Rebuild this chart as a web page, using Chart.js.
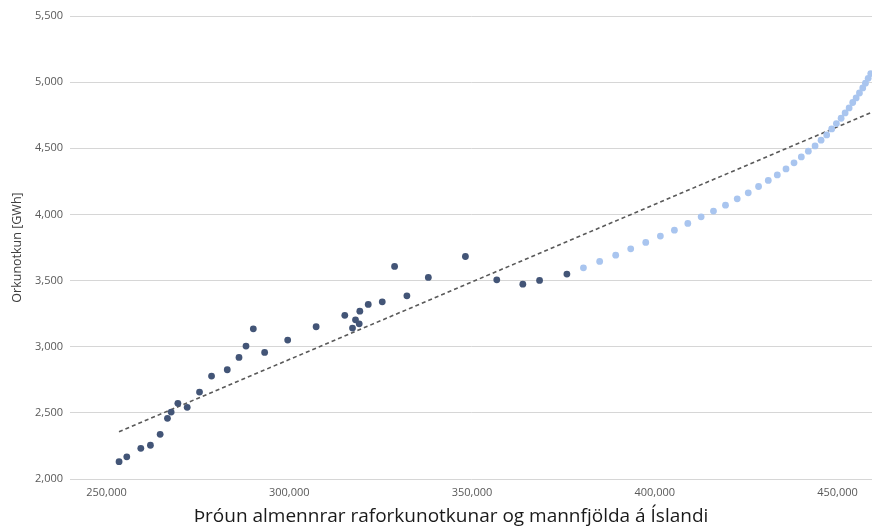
<!DOCTYPE html>
<html>
<head>
<meta charset="utf-8">
<script src="https://cdn.jsdelivr.net/npm/chart.js@4.4.1/dist/chart.umd.min.js"></script>
<style>
  html, body { margin: 0; padding: 0; background: #ffffff; overflow: hidden; }
  #wrap { position: relative; width: 872px; height: 526px; overflow: hidden; }
  #c { position: absolute; left: 0; top: 0; }
  #caption { position: absolute; left: 0; top: 502px; width: 842px; padding-left: 30px;
    text-align: center; font-family: "Open Sans", "Noto Sans", sans-serif; font-size: 19px;
    line-height: 26px; color: #1a1a1a; white-space: nowrap; }
</style>
</head>
<body>
<div id="wrap">
  <canvas id="c" width="876" height="526"></canvas>
  <div id="caption">Þróun almennrar raforkunotkunar og mannfjölda á Íslandi</div>
</div>
<script>
// Historical: population (x) and consumption GWh (y)
const histPop = [253427, 255537, 259375, 262006, 264666, 266667, 267681, 269517, 272067, 275438,
  278728, 283031, 286239, 288157, 290159, 293256, 299561, 307346, 315186, 317296,
  318119, 319133, 319298, 321600, 325438, 328810, 332181, 338047, 348190, 356770,
  363897, 368475, 375958];
const histGWh = [2131, 2168, 2232, 2255, 2338, 2459, 2506, 2572, 2542, 2657,
  2778, 2826, 2919, 3005, 3135, 2957, 3050, 3151, 3237, 3141,
  3203, 3173, 3269, 3320, 3339, 3607, 3385, 3524, 3682, 3506,
  3473, 3501, 3549];
// Forecast
const fcPop = [380481, 384922, 389308, 393420, 397531, 401534, 405371, 409044, 412690, 416062,
  419351, 422559, 425574, 428397, 431056, 433523, 435908, 438101, 440102, 442021,
  443858, 445503, 447037, 448408, 449696, 450985, 452081, 453178, 454164, 455097,
  456001, 456906, 457646, 458386, 459099];
const fcGWh = [3596, 3645, 3692, 3740, 3788, 3836, 3881, 3932, 3982, 4025,
  4070, 4118, 4163, 4211, 4257, 4299, 4344, 4390, 4435, 4478,
  4518, 4561, 4601, 4646, 4687, 4727, 4767, 4805, 4846, 4881,
  4918, 4956, 4992, 5029, 5065];
// Linear trend line (endpoints)
const trendPop = [253400, 459600];
const trendGWh = [2357, 4775];
// Axis ticks
const xTicks = [250000, 300000, 350000, 400000, 450000];
const yTicks = [2000, 2500, 3000, 3500, 4000, 4500, 5000, 5500];
const yTitle = 'Orkunotkun [GWh]';

const toPts = (xs, ys) => xs.map((x, i) => ({ x: x, y: ys[i] }));
const tickFont = { family: '"Open Sans", "Noto Sans", sans-serif', size: 11 };

new Chart(document.getElementById('c'), {
  type: 'scatter',
  data: {
    datasets: [
      { label: 'Trend', type: 'line', data: toPts(trendPop, trendGWh), borderColor: '#595959',
        borderWidth: 1.6, borderDash: [4, 3], pointRadius: 0, fill: false, order: 3 },
      { label: 'Spá', data: toPts(fcPop, fcGWh), backgroundColor: '#a9c5ef', borderColor: '#a9c5ef',
        borderWidth: 0, pointRadius: 3.4, pointHoverRadius: 3.4, order: 2 },
      { label: 'Raun', data: toPts(histPop, histGWh), backgroundColor: '#435577', borderColor: '#435577',
        borderWidth: 0, pointRadius: 3.4, pointHoverRadius: 3.4, order: 1 }
    ]
  },
  options: {
    responsive: false,
    animation: false,
    layout: { padding: { top: 16, right: 0, bottom: 0, left: 0 } },
    plugins: { legend: { display: false }, tooltip: { enabled: false } },
    scales: {
      x: {
        type: 'linear', min: 240000, max: 459600,
        afterBuildTicks: s => { s.ticks = xTicks.map(v => ({ value: v })); },
        afterFit: s => { s.height = 47; },
        grid: { display: false, drawTicks: false },
        border: { display: false },
        ticks: { color: '#595959', font: tickFont, padding: 7, maxRotation: 0,
          callback: v => v.toLocaleString('en-US') }
      },
      y: {
        min: 2000, max: 5500,
        afterBuildTicks: s => { s.ticks = yTicks.map(v => ({ value: v })); },
        afterFit: s => { s.width = 70; },
        grid: { color: '#d6d6d6', lineWidth: 1, drawTicks: false },
        border: { display: false },
        ticks: { color: '#595959', font: tickFont, padding: 7,
          callback: v => v.toLocaleString('en-US') },
        title: { display: true, text: yTitle, color: '#404040',
          font: { family: '"Open Sans", "Noto Sans", sans-serif', size: 12.5 },
          padding: { top: 10, bottom: 0 } }
      }
    }
  }
});
</script>
</body>
</html>
